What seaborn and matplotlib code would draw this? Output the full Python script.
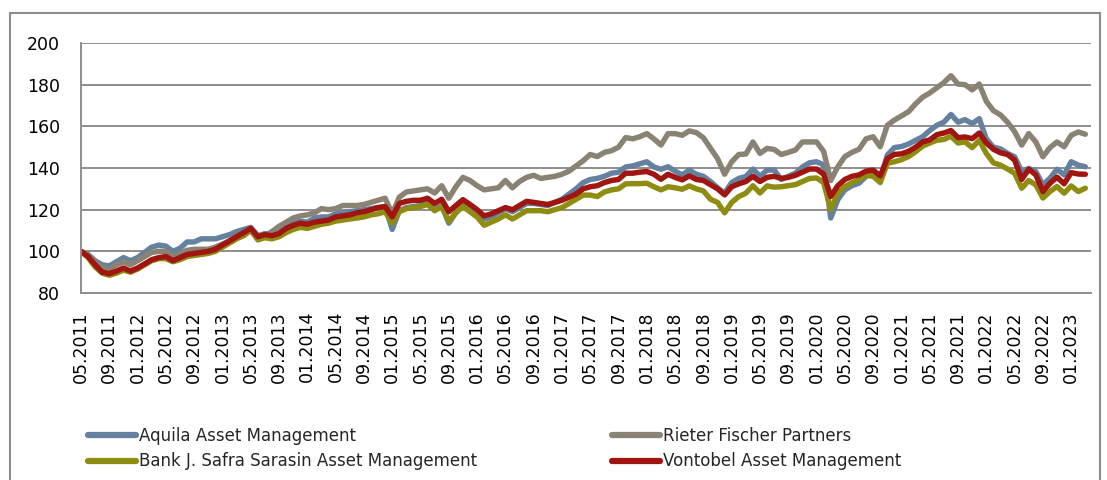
import numpy as np
import pandas as pd
import matplotlib
matplotlib.use("Agg")
import matplotlib.pyplot as plt
import seaborn as sns
from matplotlib.lines import Line2D

# ---------------- data ----------------
months = [p.strftime("%m.%Y") for p in pd.period_range("2011-05", "2023-03", freq="M")]

tick_labels = ["05.2011", "09.2011", "01.2012", "05.2012", "09.2012", "01.2013", "05.2013",
               "09.2013", "01.2014", "05.2014", "09.2014", "01.2015", "05.2015", "09.2015",
               "01.2016", "05.2016", "09.2016", "01.2017", "05.2017", "09.2017", "01.2018",
               "05.2018", "09.2018", "01.2019", "05.2019", "09.2019", "01.2020", "05.2020",
               "09.2020", "01.2021", "05.2021", "09.2021", "01.2022", "05.2022", "09.2022",
               "01.2023"]

aquila = [100, 98.5, 95.5, 93.5, 93, 95, 97, 95.5, 97, 99.5,
          102, 103, 102.5, 100, 101.5, 104.5, 104.5, 106, 106, 106,
          107, 108, 109.5, 110.5, 111.5, 107.5, 108.5, 108.5, 109.5, 112,
          113.5, 114.5, 114, 116, 116.5, 116.5, 118, 118.5, 119, 119.5,
          120, 120.5, 121, 121.5, 110.5, 119.5, 121, 121.5, 122, 123,
          120, 122, 113.5, 118.5, 122, 119.5, 117.5, 115.5, 116.5, 118.5,
          120.5, 119, 121, 123, 123, 122.5, 122, 123.5, 125, 127.5,
          130, 133, 134.5, 135, 136, 137.5, 138, 140.5, 141, 142,
          143, 140.5, 139.4, 140.6, 138.5, 136.7, 139, 137, 136, 133.5,
          130.5, 128, 133, 135, 135.9, 139.5, 136, 139, 139, 134.5,
          136, 137.5, 140.5, 142.5, 143, 141.5, 116, 124.8, 129.5, 131.5,
          132.7, 136, 137.5, 134.3, 146.2, 149.8, 150.3, 151.5, 153.3, 155,
          158, 160.5, 162, 165.7, 162, 163.2, 161.3, 163.7, 154, 150,
          149.2, 147, 145.4, 138.3, 139.8, 138.3, 131.9, 135.1, 139.4, 136.7,
          143, 141.4, 140.6]

rieter = [100, 98, 95, 92, 91.5, 93.5, 95, 93.5, 95.5, 97.5,
          99.5, 100, 100, 97.5, 99, 100.5, 101, 101, 101, 102,
          103.5, 105, 107.5, 109, 111, 107, 107.5, 109.5, 112, 114,
          116, 117, 117.5, 118.5, 120.5, 120, 120.5, 122, 122, 122,
          122.5, 123.5, 124.5, 125.5, 118, 126, 128.5, 129, 129.5, 130,
          128, 131.5, 125.5, 131, 135.5, 134, 131.5, 129.5, 130, 130.5,
          134, 130.5, 133.5, 135.5, 136.5, 135, 135.5, 136, 137, 138.5,
          141, 143.5, 146.5, 145.5, 147.5, 148.3, 150, 154.6, 154, 155,
          156.5, 154, 151, 156.5, 156.5, 155.7, 157.8, 157, 154.5, 149.5,
          144.5, 137, 143, 146.5, 146.7, 152.5, 147, 149.4, 148.9, 146.5,
          147.5, 148.6, 152.5, 152.5, 152.5, 148, 134, 140.6, 145.5, 147.5,
          149, 154, 155, 150.2, 160.5, 163, 165, 167, 170.8, 174,
          176, 178.5, 181, 184.3, 180.3, 180, 177.5, 180.3, 172, 167.5,
          165.5, 162, 157.5, 151, 156.5, 152.5, 145.4, 149.8, 152.5, 150.2,
          155.7, 157.3, 156.2]

safra = [100, 97, 92.5, 89.5, 88.5, 89.5, 91, 90, 91.5, 93.5,
         95.5, 96.5, 96.5, 95, 96, 97.5, 98, 98.5, 99, 100,
         102, 104, 106, 107.5, 110, 105.5, 106.5, 106, 107, 109,
         110.5, 111.5, 111, 112, 113, 113.5, 114.5, 115, 115.5, 116,
         116.5, 117.5, 118, 119, 113.5, 119, 120.5, 121, 121.5, 122.5,
         119.5, 121.5, 114.5, 118.5, 121.5, 119, 116.5, 112.5, 114, 115.5,
         117.5, 115.5, 117.5, 119.5, 119.5, 119.5, 119, 120, 121, 123,
         125, 127, 127, 126.3, 128.5, 129.5, 130, 132.4, 132.5, 132.5,
         132.7, 131, 129.5, 131, 130.5, 129.8, 131.4, 130, 129, 125,
         123.5, 118.5, 123.5, 126.3, 127.9, 131.5, 128, 131.4, 130.8, 131,
         131.5, 132, 133.5, 135, 135.2, 133, 120, 127.9, 131, 133,
         134.3, 136.5, 136, 133, 142.2, 143, 144, 145.5, 147.8, 150.5,
         152, 153.3, 153.7, 155.2, 152, 152.5, 149.8, 153.3, 147, 142.5,
         141.4, 139.5, 137.5, 130.3, 134, 131.9, 125.6, 128.7, 131.1, 127.9,
         131.4, 128.7, 130.3]

vontobel = [100, 97.5, 93.5, 90, 89.3, 90.5, 92, 90.5, 92, 94,
            96, 97, 97.5, 95.5, 97, 98.5, 99, 99.5, 100, 101,
            103, 105, 107, 109, 111, 107, 108, 107.5, 108.5, 111,
            112.5, 113.5, 113, 114, 114.5, 115, 116.5, 117, 117.5, 118.5,
            119, 120, 121, 121.5, 116.5, 123, 124, 124.5, 124.5, 125.5,
            123, 125, 119, 122, 124.8, 122.5, 120, 117, 118, 119.5,
            121, 120, 122, 124, 123.5, 123, 122.5, 123.5, 124.5, 126,
            127.5, 130, 131, 131.5, 133, 134, 134.5, 137.5, 137.5, 138,
            138.3, 137, 134.6, 137, 135.5, 134.3, 136.2, 134.5, 134, 132,
            130, 127.1, 131, 132.4, 133.5, 136, 133.5, 135.5, 136, 135,
            135.5, 136.5, 138, 139.5, 139.5, 137, 126.3, 131.5, 134.5, 136,
            136.7, 138.5, 139, 136.2, 144.5, 146.5, 146.8, 148, 150, 152.5,
            153.5, 156, 156.8, 158, 154.6, 154.9, 154.1, 156.8, 152, 149,
            147.3, 146.5, 143.8, 134.5, 139.4, 136.7, 128.7, 132.7, 135.6, 132.4,
            137.8, 137.1, 137]

series_names = ["Aquila Asset Management", "Rieter Fischer Partners",
                "Bank J. Safra Sarasin Asset Management", "Vontobel Asset Management"]
series_values = [aquila, rieter, safra, vontobel]
colors = ["#64819F", "#8A8272", "#8E8D12", "#A01510"]

frames = []
for name, vals in zip(series_names, series_values):
    frames.append(pd.DataFrame({"idx": np.arange(len(vals)), "month": months[:len(vals)],
                                "value": vals, "series": name}))
df = pd.concat(frames, ignore_index=True)

# ---------------- figure ----------------
sns.set_style("white")
plt.rcParams["font.family"] = ["DejaVu Sans"]

W, H = 1107, 480
fig = plt.figure(figsize=(W / 100, H / 100), dpi=100)
ax = fig.add_axes([81 / W, 1 - 293 / H, 1010 / W, 250 / H])

sns.lineplot(data=df, x="idx", y="value", hue="series", hue_order=series_names,
             palette=dict(zip(series_names, colors)), linewidth=3.9, ax=ax,
             legend=False, sort=False, solid_joinstyle="round", solid_capstyle="round")

grid_c = "#8E8E8E"
ax.set_ylim(80, 200)
ax.set_yticks(np.arange(80, 201, 20))
ax.set_xlim(0, 142.8)
ax.set_xticks(np.arange(0, 4 * len(tick_labels), 4))
ax.set_xticklabels(tick_labels, rotation=90)
ax.set_xlabel("")
ax.set_ylabel("")
ax.yaxis.grid(True, color=grid_c, lw=1.4)
ax.xaxis.grid(False)
ax.set_axisbelow(True)
for s in ["top", "right"]:
    ax.spines[s].set_visible(False)
for s in ["left", "bottom"]:
    ax.spines[s].set_color(grid_c)
    ax.spines[s].set_linewidth(1.4)
ax.tick_params(axis="both", direction="out", length=6, width=1.4, color=grid_c,
               labelsize=12.5, labelcolor="black", pad=9)
ax.tick_params(axis="x", length=5, pad=8)

# chart-area border
border_c = "#8C8C8C"
fig.add_artist(Line2D([10 / W, 10 / W], [0, 1 - 13 / H], color=border_c, lw=1.5))
fig.add_artist(Line2D([10 / W, 1100 / W], [1 - 13 / H, 1 - 13 / H], color=border_c, lw=1.5))
fig.add_artist(Line2D([1100 / W, 1100 / W], [0, 1 - 13 / H], color=border_c, lw=1.5))

# legend (row-major order like the original)
order = [0, 2, 1, 3]
handles = [Line2D([0], [0], color=colors[k], lw=4.5, solid_capstyle="round") for k in order]
labels = [series_names[k] for k in order]
fig.legend(handles, labels, ncol=2, loc="upper left", bbox_to_anchor=(88 / W, 1 - 427 / H),
           frameon=False, fontsize=12, handlelength=2.9, handletextpad=0.15,
           columnspacing=8.1, labelspacing=0.45, borderpad=0, borderaxespad=0)

fig.savefig("out.png", dpi=100)
